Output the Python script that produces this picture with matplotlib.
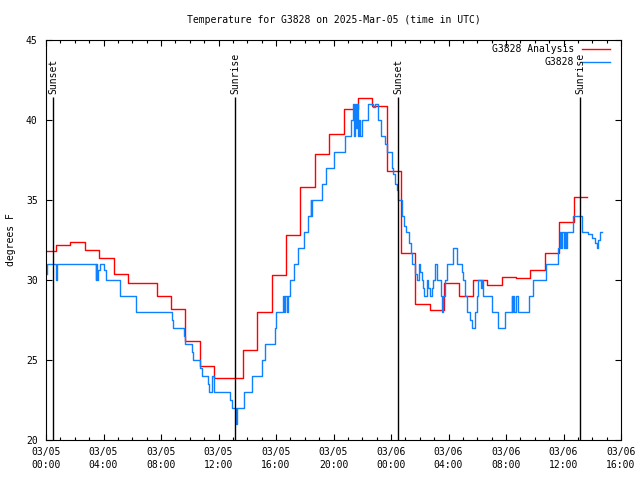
import matplotlib.pyplot as plt
import numpy as np

# hours since 03/05 00:00 UTC
red_hours = [0, 0.7, 1.7, 2.7, 3.7, 4.7, 5.7, 6.7, 7.7, 8.7, 9.7, 10.7, 11.7, 12.7,
             13.7, 14.7, 15.7, 16.7, 17.7, 18.7, 19.7, 20.7, 21.7, 22.7, 23.7, 24.7,
             25.7, 26.7, 27.7, 28.7, 29.7, 30.7, 31.7, 32.7, 33.7, 34.7, 35.7, 36.7, 37.6]
red_temps = [31.8, 32.2, 32.4, 31.9, 31.4, 30.4, 29.8, 29.8, 29.0, 28.2, 26.2, 24.6, 23.9, 23.9,
             25.6, 28.0, 30.3, 32.8, 35.8, 37.9, 39.1, 40.7, 41.4, 40.9, 36.8, 31.7,
             28.5, 28.1, 29.8, 29.0, 30.0, 29.7, 30.2, 30.15, 30.6, 31.7, 33.6, 35.2, 35.2]

obs_hours = [0.05, 0.10, 0.72, 0.79, 3.46, 3.51, 3.57, 3.62, 3.78, 4.03, 4.15, 5.15, 6.24,
             8.79, 8.86, 9.62, 9.67, 10.14, 10.25, 10.73, 10.83, 11.25, 11.34, 11.57, 11.67,
             12.80, 12.92, 13.22, 13.31,
             13.77, 14.31, 15.01, 15.23, 15.93, 16.00, 16.51, 16.58, 16.65, 16.74, 16.81, 16.97,
             17.25, 17.55, 17.95, 18.25, 18.41, 18.46, 18.50, 19.18, 19.48,
             20.06, 20.80, 21.22, 21.38, 21.45, 21.52, 21.59, 21.66, 21.73, 21.79, 21.86, 21.96,
             22.42, 22.77, 22.89, 23.12, 23.30, 23.55, 23.74, 24.05, 24.16, 24.28, 24.40, 24.51,
             24.74, 24.90, 25.04, 25.27, 25.37, 25.44,
             25.67, 25.79, 25.95, 26.02, 26.14, 26.25, 26.30, 26.48, 26.59, 26.71, 26.83, 26.90,
             27.06, 27.18, 27.46, 27.53, 27.64, 27.78, 27.92, 28.33, 28.57, 28.94, 29.03, 29.15,
             29.31, 29.50, 29.61, 29.84, 29.96, 30.07, 30.26, 30.31, 30.38, 31.01, 31.47, 31.93, 32.40,
             32.45, 32.52, 32.59, 32.73, 32.80, 33.57, 33.90, 34.76, 35.64, 35.79, 35.86, 35.93,
             36.00, 36.10, 36.17, 36.26, 36.68, 37.31, 37.72, 38.00, 38.16, 38.31, 38.43, 38.54, 38.70]
obs_temps = [30.4, 31, 30, 31, 30, 31, 30, 30.6, 31, 30.6, 30, 29, 28,
             27.5, 27, 26.5, 26, 25.5, 25, 24.5, 24, 23.5, 23, 24, 23,
             22.5, 22, 21, 22,
             23, 24, 25, 26, 27, 28, 29, 28, 29, 28, 29, 30,
             31, 32, 33, 34, 35, 34, 35, 36, 37,
             38, 39, 40, 41, 39, 41, 39.5, 41, 39, 40, 39, 40,
             41, 40.8, 41, 40, 39, 38.5, 38, 37, 36.6, 36, 35.6, 35,
             34, 33.4, 33, 32.3, 31.7, 31,
             30.4, 30, 31, 30.5, 30, 29.5, 29, 30, 29.5, 29, 29.5, 30,
             31, 30, 29, 28, 29, 30, 31, 32, 31, 30.5, 30, 29,
             28, 27.5, 27, 28, 29, 30, 29.5, 30, 29, 28, 27, 28, 29,
             28, 29, 28, 29, 28, 29, 30, 31, 32, 33, 32, 33,
             32, 33, 32, 33, 34, 33, 32.9, 32.6, 32.3, 32, 32.5, 33, 33]

sun_hours = [0.49, 13.15, 24.49, 37.15]
sun_labels = ['Sunset', 'Sunrise', 'Sunset', 'Sunrise']

xtick_hours = [0, 4, 8, 12, 16, 20, 24, 28, 32, 36, 40]
xtick_labels = ['03/05\n00:00', '03/05\n04:00', '03/05\n08:00', '03/05\n12:00',
                '03/05\n16:00', '03/05\n20:00', '03/06\n00:00', '03/06\n04:00',
                '03/06\n08:00', '03/06\n12:00', '03/06\n16:00']
ytick_vals = [20, 25, 30, 35, 40, 45]

plt.rcParams['font.family'] = 'DejaVu Sans Mono'
plt.rcParams['font.size'] = 7

fig = plt.figure(figsize=(6.4, 4.8), dpi=100)
ax = fig.add_axes([46 / 640, 40 / 480, 575 / 640, 400 / 480])

ax.step(red_hours, red_temps, where='post', color='#ff0000', lw=1.0)
ax.step(obs_hours, obs_temps, where='post', color='#1080ff', lw=1.0)

# sunrise / sunset markers
for h, lab in zip(sun_hours, sun_labels):
    ax.vlines(h, 20, 41.45, color='black', lw=1.0)
    ax.text(h, 41.65, lab, rotation=90, ha='center', va='bottom')

ax.set_xlim(0, 40)
ax.set_ylim(20, 45)
ax.set_xticks(xtick_hours)
ax.set_xticklabels(xtick_labels, linespacing=1.4)
ax.set_xticks(np.arange(0, 41, 1), minor=True)
ax.set_yticks(ytick_vals)
ax.tick_params(direction='in', top=True, right=True, width=0.8, length=4, pad=5)
ax.tick_params(which='minor', direction='in', top=True, right=True, width=0.8, length=2.2)
ax.tick_params(axis='y', pad=6)
for s in ax.spines.values():
    s.set_linewidth(0.8)

# legend drawn by hand, right aligned like gnuplot
ax.plot([0.932, 0.981], [0.9775, 0.9775], color='#ff0000', lw=1.0, transform=ax.transAxes, clip_on=False)
ax.plot([0.932, 0.981], [0.945, 0.945], color='#1080ff', lw=1.0, transform=ax.transAxes, clip_on=False)
ax.text(0.918, 0.9775, 'G3828 Analysis', ha='right', va='center', transform=ax.transAxes)
ax.text(0.918, 0.945, 'G3828', ha='right', va='center', transform=ax.transAxes)

fig.text(333.5 / 640, 1 - 20 / 480, 'Temperature for G3828 on 2025-Mar-05 (time in UTC)',
         ha='center', va='center')
fig.text(11 / 640, 0.5, 'degrees F', rotation=90, ha='center', va='center')

fig.savefig('out.png', dpi=100)
